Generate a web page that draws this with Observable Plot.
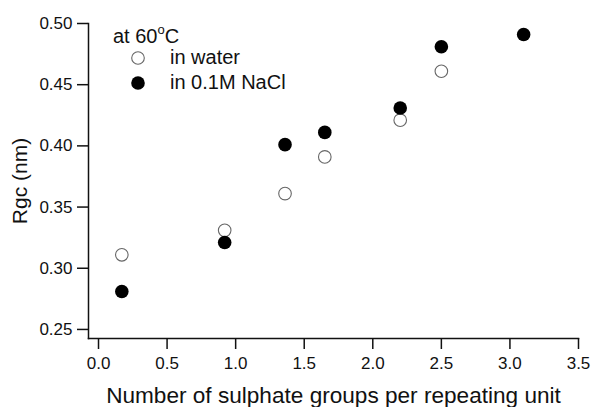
<!DOCTYPE html>
<html>
<head>
<meta charset="utf-8">
<script src="https://cdn.jsdelivr.net/npm/d3@7"></script>
<script src="https://cdn.jsdelivr.net/npm/@observablehq/plot@0.6"></script>
<style>
  html, body { margin: 0; padding: 0; background: white; }
  #wrap { position: relative; width: 591px; height: 407px; font-family: "Liberation Sans", Arial, sans-serif; }
  #wrap svg g[aria-label="x-axis label"] text { font-size: 22.6px; }
  #wrap svg g[aria-label="y-axis label"] text { font-size: 21px; }
  .leg { position: absolute; font-size: 20px; color: #111; white-space: nowrap; line-height: 1; }
  .leg sup { font-size: 13px; vertical-align: 0; position: relative; top: -9px; }
  .sw { position: absolute; }
</style>
</head>
<body>
<div id="wrap"></div>
<script>
const waterX = [0.17, 0.92, 1.36, 1.65, 2.20, 2.50];
const waterY = [0.311, 0.331, 0.361, 0.391, 0.421, 0.461];
const naclX = [0.17, 0.92, 1.36, 1.65, 2.20, 2.50, 3.10];
const naclY = [0.281, 0.321, 0.401, 0.411, 0.431, 0.481, 0.491];
const xTicks = [0, 0.5, 1.0, 1.5, 2.0, 2.5, 3.0, 3.5];
const yTicks = [0.25, 0.30, 0.35, 0.40, 0.45, 0.50];

const water = waterX.map((x, i) => ({x, y: waterY[i]}));
const nacl = naclX.map((x, i) => ({x, y: naclY[i]}));

const chart = Plot.plot({
  width: 591,
  height: 407,
  marginLeft: 88,
  marginRight: 13,
  marginTop: 23,
  marginBottom: 69,
  x: {domain: [-0.073, 3.5]},
  y: {domain: [0.2426, 0.50]},
  style: {fontFamily: "'Liberation Sans', Arial, sans-serif", fontSize: "17px", color: "#111", background: "white", overflow: "visible"},
  marks: [
    Plot.frame({anchor: "bottom", strokeWidth: 1.5, stroke: "#111"}),
    Plot.frame({anchor: "left", strokeWidth: 1.5, stroke: "#111"}),
    Plot.axisX({ticks: xTicks, tickFormat: d3.format(".1f"), tickSize: 11, tickPadding: 7, strokeWidth: 1.5,
      label: "Number of sulphate groups per repeating unit", labelAnchor: "center", labelArrow: "none", labelOffset: 64}),
    Plot.axisY({ticks: yTicks, tickFormat: d3.format(".2f"), tickSize: 11, tickPadding: 5, strokeWidth: 1.5,
      label: "Rgc (nm)", labelAnchor: "center", labelArrow: "none", labelOffset: 76}),
    Plot.dot(water, {x: "x", y: "y", r: 6.3, fill: "white", stroke: "#666", strokeWidth: 1.1}),
    Plot.dot(nacl, {x: "x", y: "y", r: 6.8, fill: "black", stroke: "none"})
  ]
});
const wrap = document.getElementById("wrap");
wrap.appendChild(chart);

const legendHTML = `
  <div class="leg" style="left:113px; top:26px;">at 60<sup>o</sup>C</div>
  <svg class="sw" style="left:130px; top:50px;" width="16" height="16"><circle cx="8" cy="8" r="6.3" fill="white" stroke="#666" stroke-width="1.1"/></svg>
  <div class="leg" style="left:170px; top:47px;">in water</div>
  <svg class="sw" style="left:130px; top:75px;" width="16" height="16"><circle cx="8" cy="8" r="6.8" fill="black"/></svg>
  <div class="leg" style="left:170px; top:72px;">in 0.1M NaCl</div>
`;
wrap.insertAdjacentHTML("beforeend", legendHTML);
</script>
</body>
</html>
